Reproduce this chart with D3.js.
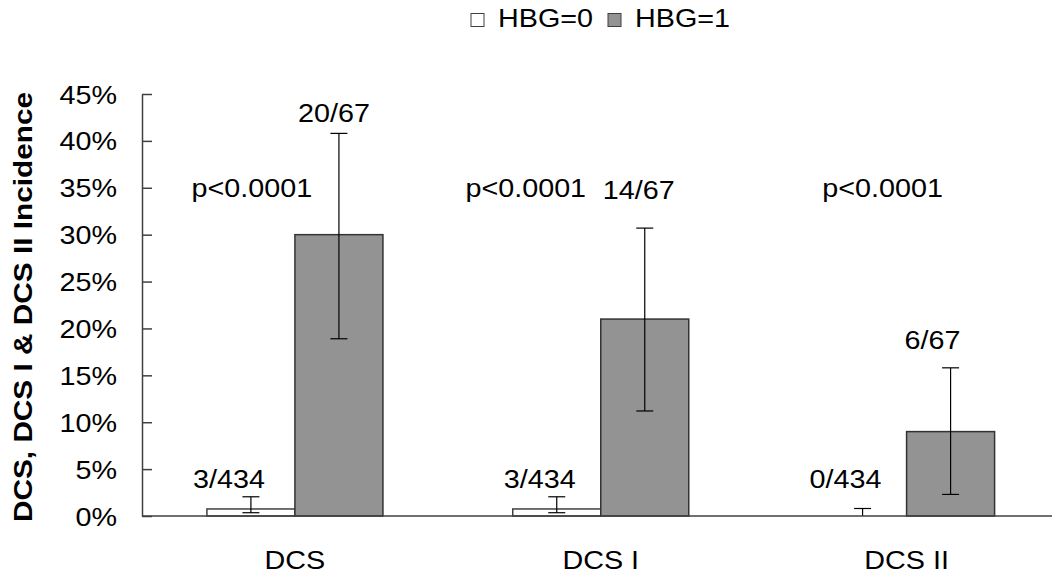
<!DOCTYPE html>
<html>
<head>
<meta charset="utf-8">
<script src="https://cdn.jsdelivr.net/npm/d3@7"></script>
<style>
  body { margin: 0; background: #fff; }
  svg { display: block; font-family: Arial, "Liberation Sans", sans-serif; }
</style>
</head>
<body>
<div id="chart"></div>
<script>
// data
var categories = ['DCS', 'DCS I', 'DCS II'];
var seriesNames = ['HBG=0', 'HBG=1'];
var hbg0 = [0.75, 0.75, 0];
var hbg1 = [30, 21, 9];
var hbg0Low = [0.35, 0.35, 0];
var hbg0High = [2.05, 2.05, 0.8];
var hbg1Low = [18.9, 11.2, 2.3];
var hbg1High = [40.8, 30.7, 15.8];
var hbg0Labels = ['3/434', '3/434', '0/434'];
var hbg1Labels = ['20/67', '14/67', '6/67'];
var pLabels = ['p<0.0001', 'p<0.0001', 'p<0.0001'];
var yTicks = [0, 5, 10, 15, 20, 25, 30, 35, 40, 45];

var width = 1052;
var height = 575;
var fontSize = 25;
var sx = 1.15; // text in the picture is drawn wide

var svg = d3.select('#chart').append('svg')
    .attr('width', width)
    .attr('height', height);

var y = d3.scaleLinear().domain([0, 45]).range([516, 94]);
var x = d3.scaleBand().domain(categories).range([142, 1059.5]).padding(0);
var xs = d3.scaleBand().domain(seriesNames).range([0, x.bandwidth()])
    .paddingInner(0).paddingOuter(0.7375);

function wideText(g, tx, ty, str, anchor, size, weight) {
    return g.append('text')
        .attr('transform', 'translate(' + tx + ',' + ty + ') scale(' + sx + ',1)')
        .attr('text-anchor', anchor || 'middle')
        .style('font-size', (size || fontSize) + 'px')
        .style('font-weight', weight || 'normal')
        .attr('fill', '#000')
        .text(str);
}

// y axis
var yAxis = svg.append('g')
    .attr('transform', 'translate(142,0)')
    .call(d3.axisLeft(y).tickValues(yTicks).tickSizeInner(-10).tickSizeOuter(0).tickPadding(25)
        .tickFormat(function(d) { return d + '%'; }));
yAxis.select('.domain').attr('stroke', '#404040').attr('stroke-width', 1.5);
yAxis.selectAll('.tick line').attr('stroke', '#404040').attr('stroke-width', 1.5);
yAxis.selectAll('.tick text')
    .attr('x', -25 / sx)
    .attr('dy', '0.36em')
    .attr('transform', 'scale(' + sx + ',1)')
    .style('font-size', fontSize + 'px')
    .style('font-family', 'Arial, "Liberation Sans", sans-serif')
    .attr('fill', '#000');

// bars
var groups = svg.selectAll('g.cat')
    .data(categories)
    .enter().append('g')
    .attr('class', 'cat')
    .attr('transform', function(d) { return 'translate(' + x(d) + ',0)'; });

groups.append('rect')
    .attr('x', xs('HBG=0'))
    .attr('y', function(d, i) { return y(hbg0[i]); })
    .attr('width', xs.bandwidth())
    .attr('height', function(d, i) { return y(0) - y(hbg0[i]); })
    .attr('fill', '#fff')
    .attr('stroke', '#404040')
    .attr('stroke-width', 1.5);

groups.append('rect')
    .attr('x', xs('HBG=1'))
    .attr('y', function(d, i) { return y(hbg1[i]); })
    .attr('width', xs.bandwidth())
    .attr('height', function(d, i) { return y(0) - y(hbg1[i]); })
    .attr('fill', '#939393')
    .attr('stroke', '#333')
    .attr('stroke-width', 1.5);

// error bars
function errorBar(g, cx, lo, hi) {
    var cap = 8.5;
    g.append('line').attr('x1', cx).attr('x2', cx).attr('y1', y(lo)).attr('y2', y(hi));
    g.append('line').attr('x1', cx - cap).attr('x2', cx + cap).attr('y1', y(hi)).attr('y2', y(hi));
    if (lo > 0) {
        g.append('line').attr('x1', cx - cap).attr('x2', cx + cap).attr('y1', y(lo)).attr('y2', y(lo));
    }
}
groups.each(function(d, i) {
    var g = d3.select(this).append('g').attr('stroke', '#000').attr('stroke-width', 1.2);
    errorBar(g, xs('HBG=0') + xs.bandwidth() / 2, hbg0Low[i], hbg0High[i]);
    errorBar(g, xs('HBG=1') + xs.bandwidth() / 2, hbg1Low[i], hbg1High[i]);
});

// x axis line
svg.append('line')
    .attr('x1', 142).attr('x2', width)
    .attr('y1', y(0)).attr('y2', y(0))
    .attr('stroke', '#404040').attr('stroke-width', 1.5);

// data labels
var label0Dx = [-22, -17, -17];
var label1Dx = [-5, -6, -18];
var label0Y = [3.0, 3.0, 3.0];
var label1Y = [42.0, 33.8, 17.8];
var pDx = [1, -31, 20];
groups.each(function(d, i) {
    var g = d3.select(this);
    var c0 = xs('HBG=0') + xs.bandwidth() / 2;
    var c1 = xs('HBG=1') + xs.bandwidth() / 2;
    wideText(g, c0 + label0Dx[i], y(label0Y[i]), hbg0Labels[i]);
    wideText(g, c1 + label1Dx[i], y(label1Y[i]), hbg1Labels[i]);
    wideText(g, c0 + pDx[i], y(34), pLabels[i]);
});

// category labels
svg.selectAll('text.xlab')
    .data(categories)
    .enter().append('text')
    .attr('class', 'xlab')
    .attr('transform', function(d) {
        return 'translate(' + (x(d) + x.bandwidth() / 2) + ',569) scale(' + sx + ',1)';
    })
    .attr('text-anchor', 'middle')
    .style('font-size', fontSize + 'px')
    .attr('fill', '#000')
    .text(function(d) { return d; });

// y axis title
svg.append('text')
    .attr('transform', 'translate(32,307) rotate(-90)')
    .attr('text-anchor', 'middle')
    .attr('textLength', 430)
    .attr('lengthAdjust', 'spacingAndGlyphs')
    .style('font-size', '25px')
    .style('font-weight', 'bold')
    .attr('fill', '#000')
    .text('DCS, DCS I & DCS II Incidence');

// legend
var legend = svg.append('g');
var legendX = [471, 608];
var legendFill = ['#fff', '#939393'];
seriesNames.forEach(function(s, i) {
    legend.append('rect')
        .attr('x', legendX[i]).attr('y', 13.5)
        .attr('width', 13).attr('height', 13)
        .attr('fill', legendFill[i])
        .attr('stroke', '#404040')
        .attr('stroke-width', 1);
    wideText(legend, legendX[i] + 27, 27, s, 'start');
});
</script>
</body>
</html>
